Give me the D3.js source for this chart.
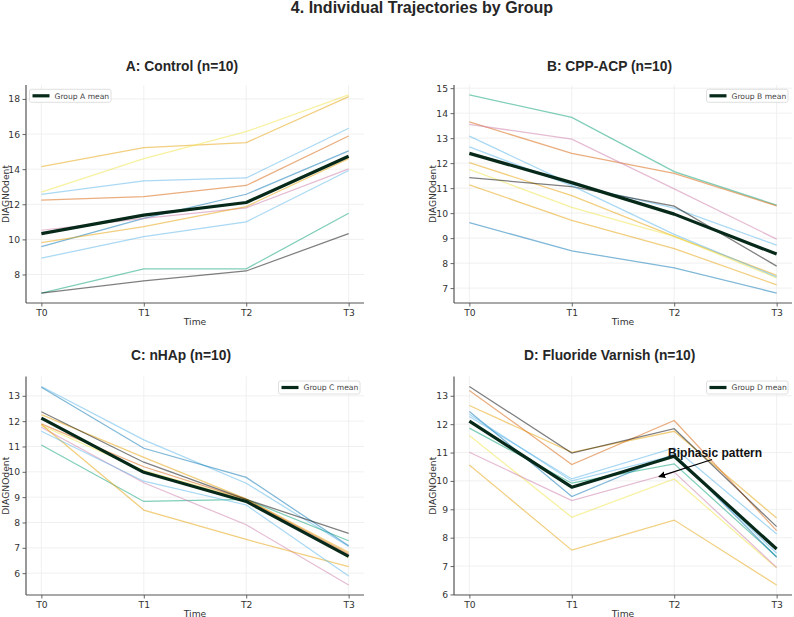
<!DOCTYPE html>
<html>
<head>
<meta charset="utf-8">
<script src="https://cdn.jsdelivr.net/npm/d3@7"></script>
<style>
  html, body { margin: 0; padding: 0; background: #fff; }
  svg { display: block; }
</style>
</head>
<body>
<svg id="chart" width="794" height="617"></svg>
<script>
// ---------------- DATA ----------------
const times = ["T0", "T1", "T2", "T3"];
const palette = ["#E69F00", "#56B4E9", "#009E73", "#F0E442", "#0072B2", "#D55E00", "#CC79A7", "#000000"];

const groupA = [
  [14.15, 15.23, 15.51, 18.13],
  [12.57, 13.33, 13.50, 16.33],
  [6.94, 8.32, 8.32, 11.49],
  [12.69, 14.60, 16.14, 18.23],
  [9.59, 11.20, 12.57, 15.04],
  [12.23, 12.44, 13.07, 15.89],
  [10.52, 11.20, 11.80, 14.02],
  [6.94, 7.64, 8.20, 10.33],
  [9.82, 10.73, 11.87, 14.60],
  [8.93, 10.16, 11.00, 13.92]
];
const meanA = [10.33, 11.38, 12.10, 14.74];
const ticksA = [8, 10, 12, 14, 16, 18];

const groupB = [
  [12.02, 10.70, 9.07, 7.51],
  [13.08, 11.15, 10.20, 8.72],
  [14.73, 13.83, 11.66, 10.32],
  [11.75, 10.23, 9.07, 7.41],
  [9.62, 8.49, 7.81, 6.80],
  [13.65, 12.39, 11.59, 10.29],
  [13.55, 12.96, 10.97, 8.96],
  [11.42, 11.06, 10.28, 7.88],
  [11.13, 9.71, 8.58, 7.13],
  [12.65, 11.10, 9.15, 7.45]
];
const meanB = [12.39, 11.22, 9.96, 8.36];
const ticksB = [7, 8, 9, 10, 11, 12, 13, 14, 15];

const groupC = [
  [12.26, 10.57, 8.93, 6.82],
  [13.37, 11.26, 9.55, 7.05],
  [11.06, 8.83, 8.91, 7.28],
  [11.83, 10.05, 8.90, 6.62],
  [13.34, 10.93, 9.78, 7.08],
  [11.89, 10.20, 8.91, 6.75],
  [11.76, 9.57, 7.91, 5.53],
  [12.37, 10.38, 8.91, 7.57],
  [11.87, 8.49, 7.33, 6.26],
  [11.60, 9.63, 8.69, 5.89]
];
const meanC = [12.12, 9.98, 8.83, 6.66];
const ticksC = [6, 7, 8, 9, 10, 11, 12, 13];

const groupD = [
  [12.66, 11.01, 11.75, 8.69],
  [12.27, 10.07, 11.16, 8.13],
  [11.86, 9.92, 10.60, 7.33],
  [11.60, 8.72, 10.07, 6.93],
  [12.45, 9.45, 10.95, 7.31],
  [13.19, 10.58, 12.13, 8.25],
  [11.01, 9.31, 10.31, 6.95],
  [13.33, 10.98, 11.84, 8.39],
  [10.56, 7.56, 8.62, 6.33],
  [12.35, 10.00, 10.90, 7.45]
];
const meanD = [12.11, 9.78, 10.87, 7.60];
const ticksD = [6, 7, 8, 9, 10, 11, 12, 13];

const titles = ["A: Control (n=10)", "B: CPP-ACP (n=10)", "C: nHAp (n=10)", "D: Fluoride Varnish (n=10)"];
const legendLabels = ["Group A mean", "Group B mean", "Group C mean", "Group D mean"];
const annotationText = "Biphasic pattern";
const annotationTip = [1.85, 10.15];
const annotationPos = [1.94, 11.0];

// ---------------- LAYOUT ----------------
const svg = d3.select("#chart");
const titleFont = "'Liberation Sans', Arial, sans-serif";
const bodyFont = "'DejaVu Sans', sans-serif";

svg.append("text")
  .attr("x", 422).attr("y", 13)
  .attr("text-anchor", "middle")
  .style("font-family", titleFont).style("font-weight", "bold")
  .style("font-size", "16px").style("fill", "#262626")
  .text("4. Individual Trajectories by Group");

const panels = [
  { data: groupA, mean: meanA, ticks: ticksA, x0: 26, x1: 364, y0: 85, y1: 303, legend: "left", titleY: 70.5, titleX: 182, ylabX: 5 },
  { data: groupB, mean: meanB, ticks: ticksB, x0: 454, x1: 792, y0: 85, y1: 303, legend: "right", titleY: 70.5, titleX: 609.5, ylabX: 432.5 },
  { data: groupC, mean: meanC, ticks: ticksC, x0: 26, x1: 364, y0: 376.5, y1: 595, legend: "right", titleY: 359.5, titleX: 181, ylabX: 5 },
  { data: groupD, mean: meanD, ticks: ticksD, x0: 454, x1: 792, y0: 376.5, y1: 595, legend: "right", titleY: 359.5, titleX: 609.7, ylabX: 432.5, annotate: true }
];

const defs = svg.append("defs");
defs.append("marker")
  .attr("id", "arrowhead").attr("viewBox", "0 0 10 10")
  .attr("refX", 9).attr("refY", 5)
  .attr("markerWidth", 7).attr("markerHeight", 7)
  .attr("markerUnits", "userSpaceOnUse")
  .attr("orient", "auto")
  .append("path").attr("d", "M0,0 L10,5 L0,10 z").attr("fill", "#000");

panels.forEach((p, i) => {
  const g = svg.append("g");
  const all = p.data.flat().concat(p.mean);
  const [mn, mx] = d3.extent(all);
  const pad = (mx - mn) * 0.05;
  const x = d3.scaleLinear().domain([-0.15, 3.15]).range([p.x0, p.x1]);
  const y = d3.scaleLinear().domain([mn - pad, mx + pad]).range([p.y1, p.y0]);

  // grid
  g.append("g").selectAll("line").data(p.ticks).join("line")
    .attr("x1", p.x0).attr("x2", p.x1)
    .attr("y1", d => y(d)).attr("y2", d => y(d))
    .attr("stroke", "#ececec").attr("stroke-width", 0.8);
  g.append("g").selectAll("line").data(d3.range(times.length)).join("line")
    .attr("y1", p.y0).attr("y2", p.y1)
    .attr("x1", d => x(d)).attr("x2", d => x(d))
    .attr("stroke", "#ececec").attr("stroke-width", 0.8);

  const line = d3.line().x((d, j) => x(j)).y(d => y(d));

  // individual trajectories
  g.append("g").selectAll("path").data(p.data).join("path")
    .attr("d", line)
    .attr("fill", "none")
    .attr("stroke", (d, j) => palette[j % palette.length])
    .attr("stroke-opacity", 0.5)
    .attr("stroke-width", 1.25);

  // mean
  g.append("path").datum(p.mean)
    .attr("d", line).attr("fill", "none")
    .attr("stroke", "#06291a").attr("stroke-width", 3.2)
    .attr("stroke-linejoin", "round");

  // axes
  const xAxis = d3.axisBottom(x).tickValues(d3.range(times.length))
    .tickFormat(d => times[d]).tickSize(3.5).tickPadding(2.5);
  const yAxis = d3.axisLeft(y).tickValues(p.ticks).tickSize(3.5).tickPadding(2.5);

  const gx = g.append("g").attr("transform", `translate(0,${p.y1})`).call(xAxis);
  gx.select(".domain").attr("d", `M${p.x0},0H${p.x1}`);
  const gy = g.append("g").attr("transform", `translate(${p.x0},0)`).call(yAxis);
  gy.select(".domain").attr("d", `M0,${p.y0}V${p.y1}`);
  [gx, gy].forEach(ax => {
    ax.select(".domain").attr("stroke", "#555").attr("stroke-width", 1.2);
    ax.selectAll(".tick line").attr("stroke", "#555").attr("stroke-width", 0.9);
    ax.selectAll(".tick text").style("font-family", bodyFont).style("font-size", "9.2px").attr("fill", "#333");
  });

  // axis labels
  g.append("text")
    .attr("x", (p.x0 + p.x1) / 2).attr("y", p.y1 + 21.5)
    .attr("text-anchor", "middle")
    .style("font-family", bodyFont).style("font-size", "9.2px").attr("fill", "#333")
    .text("Time");
  g.append("text")
    .attr("transform", `translate(${p.ylabX},${(p.y0 + p.y1) / 2}) rotate(-90)`)
    .attr("text-anchor", "middle").attr("dominant-baseline", "central")
    .style("font-family", bodyFont).style("font-size", "9.2px").attr("fill", "#333")
    .text("DIAGNOdent");

  // title
  g.append("text")
    .attr("x", p.titleX).attr("y", p.titleY)
    .attr("text-anchor", "middle")
    .style("font-family", titleFont).style("font-weight", "bold")
    .style("font-size", "13.8px").attr("fill", "#262626")
    .text(titles[i]);

  // legend
  const lw = 81.5, lh = 13;
  const lx = p.legend === "left" ? p.x0 + 3.5 : p.x1 - 4 - lw;
  const ly = p.y0 + (i < 2 ? 4.3 : 4.5);
  const lg = g.append("g").attr("transform", `translate(${lx},${ly})`);
  lg.append("rect").attr("width", lw).attr("height", lh).attr("rx", 2)
    .attr("fill", "#fff").attr("fill-opacity", 0.85)
    .attr("stroke", "#d8d8d8").attr("stroke-width", 0.8);
  lg.append("line").attr("x1", 3).attr("x2", 20).attr("y1", lh / 2).attr("y2", lh / 2)
    .attr("stroke", "#06291a").attr("stroke-width", 3.2);
  lg.append("text").attr("x", 25).attr("y", lh / 2 + 0.3)
    .attr("dominant-baseline", "central")
    .style("font-family", bodyFont).style("font-size", "7.6px").attr("fill", "#444")
    .text(legendLabels[i]);

  // annotation
  if (p.annotate) {
    g.append("line")
      .attr("x1", x(annotationPos[0]) + 44).attr("y1", y(annotationPos[1]) + 7)
      .attr("x2", x(annotationTip[0])).attr("y2", y(annotationTip[1]))
      .attr("stroke", "#000").attr("stroke-width", 1.2)
      .attr("marker-end", "url(#arrowhead)");
    g.append("text")
      .attr("x", x(annotationPos[0])).attr("y", y(annotationPos[1]) + 4)
      .style("font-family", titleFont).style("font-weight", "bold")
      .style("font-size", "12px").attr("fill", "#111")
      .text(annotationText);
  }
});
</script>
</body>
</html>
